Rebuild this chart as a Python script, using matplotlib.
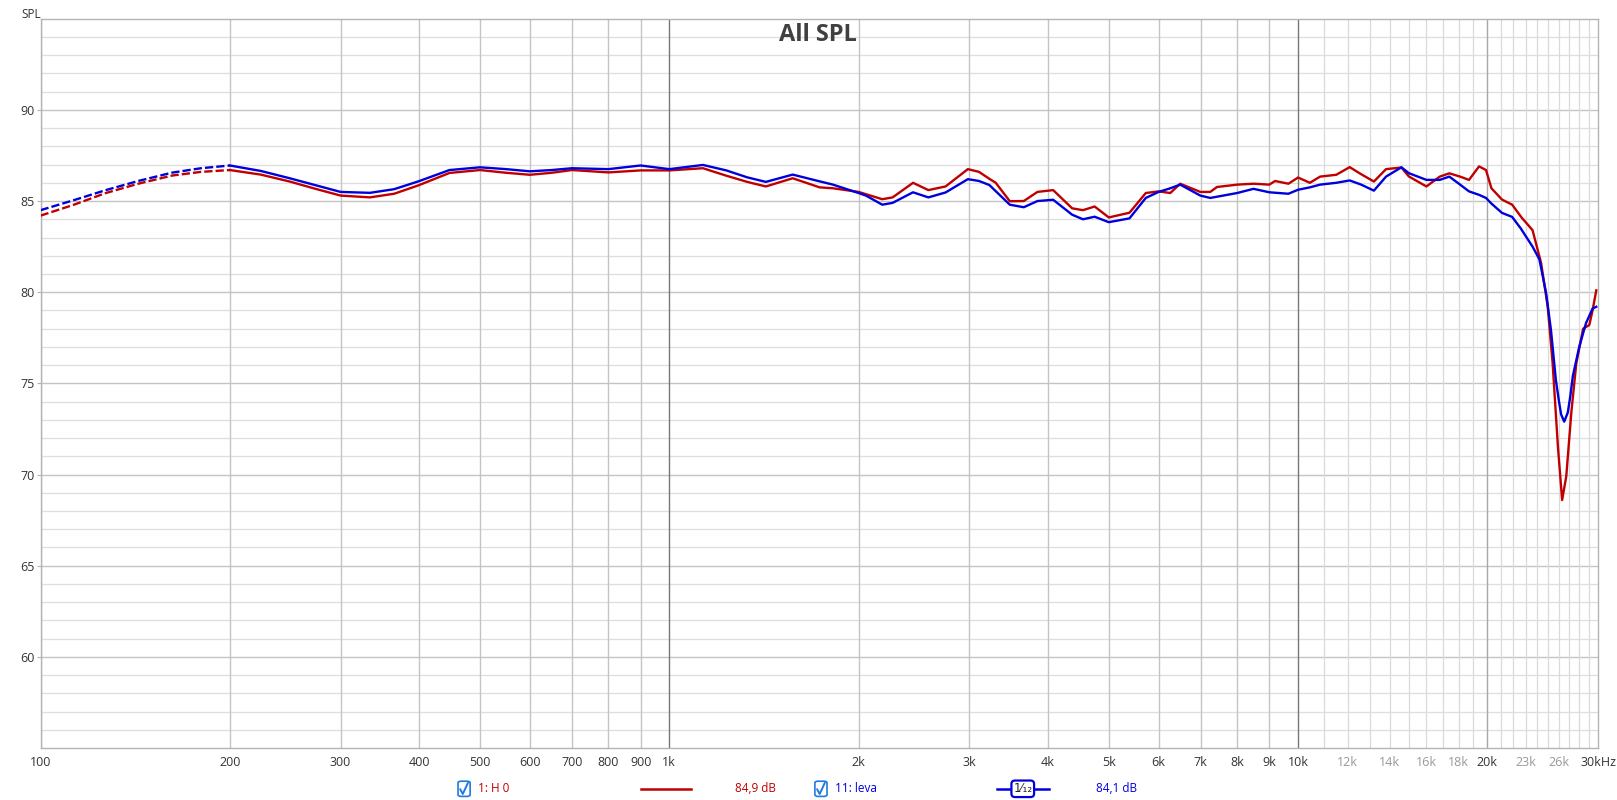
# All SPL frequency response, two measurements
import numpy as np
import matplotlib.pyplot as plt
from matplotlib.patches import FancyBboxPatch
from matplotlib.lines import Line2D

plt.rcParams['font.family'] = ['Open Sans', 'DejaVu Sans']

# --- data ---
freq_h0 = [100, 113, 127, 143, 162, 180, 200, 224, 249, 275, 300, 334, 365, 399, 447, 500,
           550, 600, 650, 700, 800, 900, 1000, 1131, 1232, 1330, 1424, 1571, 1734, 1821,
           2000, 2181, 2265, 2441, 2582, 2750, 2984, 3108, 3228, 3305, 3479, 3662, 3850,
           4078, 4372, 4548, 4747, 5000, 5393, 5725, 6000, 6262, 6494, 6990, 7250, 7430,
           8000, 8493, 9000, 9193, 9652, 10000, 10440, 10840, 11500, 12080, 12600, 13200,
           13800, 14600, 15000, 16000, 16800, 17400, 18100, 18700, 19400, 19900, 20300,
           21100, 21900, 22700, 23200, 23600, 24350, 24950, 25400, 25900, 26300, 26700,
           27200, 27700, 28400, 29050, 29400, 29800]
spl_h0 = [84.2, 84.8, 85.44, 85.95, 86.4, 86.6, 86.7, 86.45, 86.07, 85.65, 85.3, 85.2, 85.4,
          85.86, 86.54, 86.7, 86.55, 86.44, 86.55, 86.7, 86.57, 86.68, 86.68, 86.8, 86.39,
          86.05, 85.8, 86.25, 85.75, 85.7, 85.5, 85.1, 85.2, 86.0, 85.6, 85.8, 86.75, 86.6,
          86.22, 86.0, 84.99, 85.0, 85.5, 85.6, 84.6, 84.5, 84.7, 84.1, 84.36, 85.44, 85.53,
          85.44, 85.95, 85.5, 85.5, 85.77, 85.9, 85.95, 85.9, 86.1, 85.95, 86.29, 86.0,
          86.34, 86.44, 86.86, 86.47, 86.07, 86.75, 86.84, 86.35, 85.8, 86.34, 86.52, 86.34,
          86.16, 86.9, 86.7, 85.7, 85.08, 84.8, 84.07, 83.7, 83.4, 81.6, 79.2, 76.1, 71.5,
          68.6, 69.9, 73.4, 76.1, 78.0, 78.2, 79.0, 80.1]

freq_leva = [100, 113, 127, 143, 162, 180, 200, 224, 249, 275, 300, 334, 365, 399, 447, 500,
             550, 600, 650, 700, 800, 900, 1000, 1131, 1232, 1330, 1424, 1571, 1734, 1821,
             2000, 2054, 2181, 2265, 2441, 2582, 2750, 2984, 3108, 3228, 3479, 3662, 3850,
             4078, 4372, 4548, 4747, 5000, 5393, 5725, 6000, 6262, 6494, 6990, 7250, 8000,
             8493, 9000, 9652, 10000, 10440, 10840, 11500, 12080, 12600, 13200, 13800, 14600,
             15000, 16000, 16800, 17400, 18100, 18700, 19400, 19900, 20300, 21100, 21900,
             22600, 23600, 24200, 24800, 25250, 25700, 26000, 26200, 26500, 26850, 27100,
             27350, 28000, 28700, 29400, 29800]
spl_leva = [84.5, 85.05, 85.6, 86.1, 86.56, 86.8, 86.95, 86.65, 86.25, 85.85, 85.5, 85.45,
            85.65, 86.08, 86.7, 86.85, 86.75, 86.63, 86.7, 86.8, 86.75, 86.95, 86.75, 86.98,
            86.68, 86.3, 86.05, 86.45, 86.08, 85.9, 85.44, 85.3, 84.8, 84.9, 85.48, 85.2,
            85.47, 86.2, 86.1, 85.88, 84.8, 84.66, 85.0, 85.07, 84.25, 84.0, 84.14, 83.84,
            84.05, 85.17, 85.5, 85.7, 85.9, 85.3, 85.17, 85.44, 85.67, 85.48, 85.4, 85.62,
            85.75, 85.9, 86.0, 86.13, 85.9, 85.57, 86.34, 86.85, 86.53, 86.16, 86.16, 86.34,
            85.9, 85.53, 85.34, 85.17, 84.86, 84.35, 84.13, 83.5, 82.5, 81.8, 79.95, 77.9,
            75.2, 74.0, 73.3, 72.9, 73.4, 74.3, 75.4, 77.0, 78.3, 79.1, 79.2]

dash_end = 205  # below this frequency the curves are drawn dashed

y_major = [60, 65, 70, 75, 80, 85, 90]
x_major = [100, 200, 300, 400, 500, 600, 700, 800, 900, 1000, 2000, 3000, 4000, 5000,
           6000, 7000, 8000, 9000, 10000, 20000]
x_dark = [1000, 10000]
x_minor = [11000, 12000, 13000, 14000, 15000, 16000, 17000, 18000, 19000, 21000, 22000,
           23000, 24000, 25000, 26000, 27000, 28000, 29000]
x_labels = {100: '100', 200: '200', 300: '300', 400: '400', 500: '500', 600: '600',
            700: '700', 800: '800', 900: '900', 1000: '1k', 2000: '2k', 3000: '3k',
            4000: '4k', 5000: '5k', 6000: '6k', 7000: '7k', 8000: '8k', 9000: '9k',
            10000: '10k', 12000: '12k', 14000: '14k', 16000: '16k', 18000: '18k',
            20000: '20k', 23000: '23k', 26000: '26k', 30000: '30kHz'}
light_labels = [12000, 14000, 16000, 18000, 23000, 26000]

RED = '#c00000'
BLUE = '#0000dd'

fig = plt.figure(figsize=(16.17, 8.0), dpi=100)
ax = fig.add_axes([0.0251, 0.065, 0.9632, 0.9116])
ax.set_xscale('log')
ax.set_xlim(100, 30000)
ax.set_ylim(55, 95)

# grid
for v in range(56, 95):
    if v % 5:
        ax.axhline(v, color='#dedede', lw=0.9, zorder=0)
for v in y_major:
    ax.axhline(v, color='#c4c4c4', lw=1.0, zorder=0)
for f in x_minor:
    ax.axvline(f, color='#dadada', lw=0.9, zorder=0)
for f in x_major:
    if f in x_dark:
        ax.axvline(f, color='#777777', lw=1.0, zorder=0)
    elif f == 20000:
        ax.axvline(f, color='#a8a8a8', lw=1.0, zorder=0)
    else:
        ax.axvline(f, color='#c4c4c4', lw=1.0, zorder=0)

# curves
for fr, sp, col in [(freq_h0, spl_h0, RED), (freq_leva, spl_leva, BLUE)]:
    fr = np.array(fr, dtype=float)
    sp = np.array(sp, dtype=float)
    lo = fr <= dash_end
    hi = fr >= 200
    ax.plot(fr[lo], sp[lo], color=col, lw=1.7, ls=(0, (3.5, 1.3)), zorder=3)
    ax.plot(fr[hi], sp[hi], color=col, lw=1.7, zorder=3, solid_joinstyle='round')

for s in ax.spines.values():
    s.set_color('#b4b4b4')
    s.set_linewidth(1.0)

ax.set_yticks(y_major)
ax.set_yticklabels([str(v) for v in y_major])
ax.tick_params(axis='y', length=3, color='#b4b4b4', labelsize=9, labelcolor='#333333', pad=1)
ax.set_xticks(list(x_labels.keys()))
ax.set_xticklabels(list(x_labels.values()))
ax.xaxis.set_minor_locator(plt.NullLocator())
ax.tick_params(axis='x', length=0, labelsize=9, labelcolor='#333333', pad=6)
for lab, f in zip(ax.get_xticklabels(), x_labels.keys()):
    if f in light_labels:
        lab.set_color('#999999')

fig.text(0.013, 0.99, 'SPL', fontsize=8.5, color='#333333', va='top', ha='left')
fig.text(0.506, 0.956, 'All SPL', fontsize=17, fontweight='bold', color='#404040',
         ha='center', va='center')

# legend strip at the bottom
ly = 0.014


def checkbox(xc):
    w, h = 0.0075, 0.019
    fig.patches.append(FancyBboxPatch((xc - w / 2, ly - h / 2), w, h,
                                      boxstyle='round,pad=0,rounding_size=0.002',
                                      transform=fig.transFigure, fc='white',
                                      ec='#1e7be0', lw=1.2))
    fig.lines.append(Line2D([xc - 0.0024, xc - 0.0008, xc + 0.0024],
                            [ly - 0.0005, ly - 0.0065, ly + 0.0075],
                            transform=fig.transFigure, color='#1e7be0', lw=1.4,
                            solid_joinstyle='round', solid_capstyle='round'))


checkbox(0.2870)
fig.text(0.2955, ly, '1: H 0', fontsize=8.5, color=RED, va='center')
fig.lines.append(Line2D([0.3965, 0.4275], [ly, ly], transform=fig.transFigure, color=RED, lw=1.8))
fig.text(0.4545, ly, '84,9 dB', fontsize=8.5, color=RED, va='center')
checkbox(0.5077)
fig.text(0.5165, ly, '11: leva', fontsize=8.5, color=BLUE, va='center')
fig.lines.append(Line2D([0.6165, 0.6485], [ly, ly], transform=fig.transFigure, color=BLUE, lw=1.8))
fig.text(0.6325, ly, '1\u2044\u2081\u2082', fontsize=8.5, color='#222222', va='center', ha='center',
         family=['DejaVu Sans'],
         bbox=dict(boxstyle='round,pad=0.15,rounding_size=0.3', fc='white', ec=BLUE, lw=1.6))
fig.text(0.6775, ly, '84,1 dB', fontsize=8.5, color=BLUE, va='center')

fig.savefig('out.png', dpi=100)
